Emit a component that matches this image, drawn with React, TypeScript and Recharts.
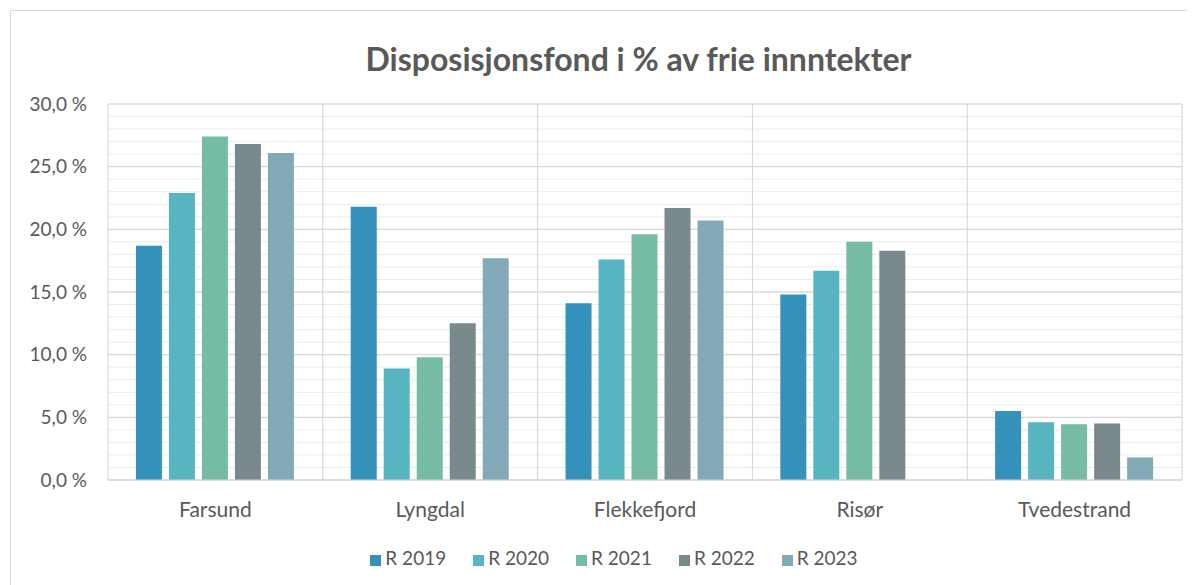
import React from 'react';
import { BarChart, Bar, XAxis, YAxis, CartesianGrid, Legend } from 'recharts';

const kommuner = ['Farsund', 'Lyngdal', 'Flekkefjord', 'Risør', 'Tvedestrand'];
const r2019 = [18.7, 21.8, 14.1, 14.8, 5.5];
const r2020 = [22.9, 8.9, 17.6, 16.7, 4.6];
const r2021 = [27.4, 9.8, 19.6, 19.0, 4.45];
const r2022 = [26.8, 12.5, 21.7, 18.3, 4.5];
const r2023 = [26.1, 17.7, 20.7, null, 1.8];
const yTicks = [0, 5, 10, 15, 20, 25, 30];
const yMax = 30;
const minorTicks = Array.from({ length: 31 }, (_, i) => i);

const series = [
  { key: 'R 2019', color: '#3391BA' },
  { key: 'R 2020', color: '#57B5C1' },
  { key: 'R 2021', color: '#76BCA5' },
  { key: 'R 2022', color: '#7A898B' },
  { key: 'R 2023', color: '#82A9B6' },
];

const data = kommuner.map((name, i) => ({
  name,
  'R 2019': r2019[i],
  'R 2020': r2020[i],
  'R 2021': r2021[i],
  'R 2022': r2022[i],
  'R 2023': r2023[i],
}));

const fmt = (v: number) => v.toFixed(1).replace('.', ',') + ' %';
const font = 'Lato, "Open Sans", sans-serif';
const textColor = '#595959';

export default function App() {
  return (
    <div style={{ position: 'relative', width: 1185, height: 575, marginLeft: 2, marginTop: 2, border: '1px solid #d9d9d9', background: '#fff', fontFamily: font }}>
      <div style={{ position: 'absolute', top: 28, left: 25, width: 1205, textAlign: 'center', fontSize: 32, fontWeight: 700, color: textColor }}>
        Disposisjonsfond i % av frie innntekter
      </div>
      <BarChart
        width={1185}
        height={575}
        data={data}
        margin={{ top: 93, right: 14, left: 17, bottom: 36 }}
        barCategoryGap="13%"
        barGap={7}
      >
        {/* minor 1 % lines */}
        <CartesianGrid
          vertical={false}
          stroke="#ebebeb"
          horizontalCoordinatesGenerator={({ offset }: any) =>
            minorTicks.map((t) => offset.top + offset.height * (1 - t / yMax))
          }
        />
        <CartesianGrid
          stroke="#d4d4d4"
          verticalCoordinatesGenerator={({ offset }: any) =>
            [0, 1, 2, 3, 4, 5].map((i) => offset.left + (i * offset.width) / kommuner.length)
          }
        />
        <XAxis
          dataKey="name"
          axisLine={{ stroke: '#d4d4d4' }}
          tickLine={false}
          tick={{ fill: textColor, fontSize: 21, fontFamily: font }}
          tickMargin={16}
          height={30}
        />
        <YAxis
          domain={[0, yMax]}
          ticks={yTicks}
          tickFormatter={fmt}
          axisLine={false}
          tickLine={false}
          width={80}
          tick={{ fill: textColor, fontSize: 19, fontFamily: font }}
          tickMargin={15}
        />
        <Legend
          verticalAlign="bottom"
          height={40}
          iconType="square"
          iconSize={11}
          formatter={(value: string) => <span style={{ color: textColor, fontSize: 19, marginRight: 17 }}>{value}</span>}
          wrapperStyle={{ fontFamily: font, left: 24, width: 1185, bottom: 0 }}
        />
        {series.map((s) => (
          <Bar key={s.key} dataKey={s.key} fill={s.color} isAnimationActive={false} />
        ))}
      </BarChart>
    </div>
  );
}
